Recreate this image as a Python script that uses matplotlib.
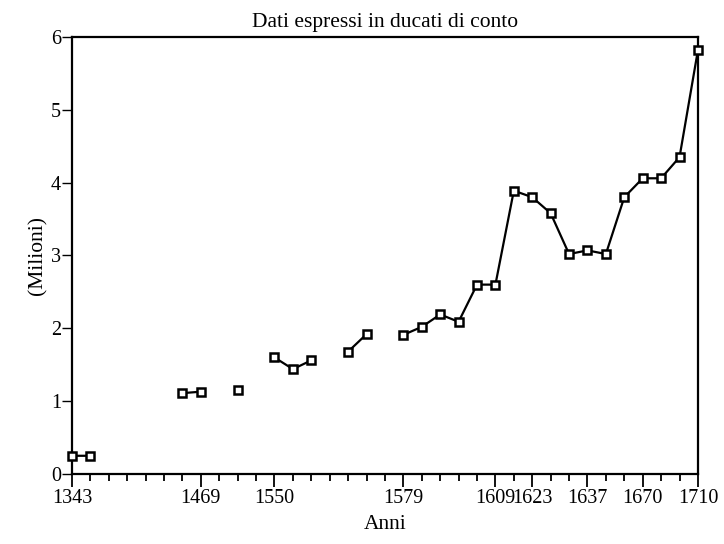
import numpy as np
import matplotlib
matplotlib.use("Agg")
import matplotlib.pyplot as plt

plt.rcParams['font.family'] = ['Liberation Serif', 'DejaVu Serif']

# slot index along the categorical axis (0..34); None = missing value
values = [0.25, 0.25, None, None, None, None, 1.11, 1.13, None, 1.15,
          None, 1.60, 1.44, 1.56, None, 1.68, 1.92, None, 1.91, 2.02,
          2.19, 2.09, 2.60, 2.60, 3.89, 3.80, 3.58, 3.02, 3.07, 3.02,
          3.80, 4.06, 4.06, 4.35, 5.82]
tick_positions = [0, 7, 11, 18, 23, 25, 28, 31, 34]
tick_labels = ["1343", "1469", "1550", "1579", "1609", "1623", "1637", "1670", "1710"]
y_ticks = [0, 1, 2, 3, 4, 5, 6]

title = "Dati espressi in ducati di conto"
xlabel = "Anni"
ylabel = "(Milioni)"

x = np.arange(len(values))
y = np.array([np.nan if v is None else v for v in values], dtype=float)

fig = plt.figure(figsize=(7.24, 5.44), dpi=100)
ax = fig.add_axes([0.0994, 0.1287, 0.8646, 0.8033])

ax.plot(x, y, color='black', linewidth=1.6, marker='s', markersize=5.5,
        markerfacecolor='white', markeredgecolor='black', markeredgewidth=1.8,
        clip_on=False, zorder=3)

ax.set_xlim(0, len(values) - 1)
ax.set_ylim(0, 6)

ax.set_xticks(tick_positions)
ax.set_xticklabels(tick_labels, fontsize=14.5)
ax.set_xticks(x, minor=True)
ax.set_yticks(y_ticks)
ax.set_yticklabels([str(t) for t in y_ticks], fontsize=14.5)

ax.tick_params(axis='x', which='major', direction='out', length=9, width=1.3, pad=2)
ax.tick_params(axis='x', which='minor', direction='out', length=5, width=1.3)
ax.tick_params(axis='y', which='major', direction='out', length=7, width=1.0, pad=1)

for s in ax.spines.values():
    s.set_linewidth(1.6)
    s.set_color('black')

ax.set_title(title, fontsize=15.5, pad=7)
ax.set_xlabel(xlabel, fontsize=15.5, labelpad=5)
ax.set_ylabel(ylabel, fontsize=15.5, labelpad=2)

fig.savefig("out.png", dpi=100)
